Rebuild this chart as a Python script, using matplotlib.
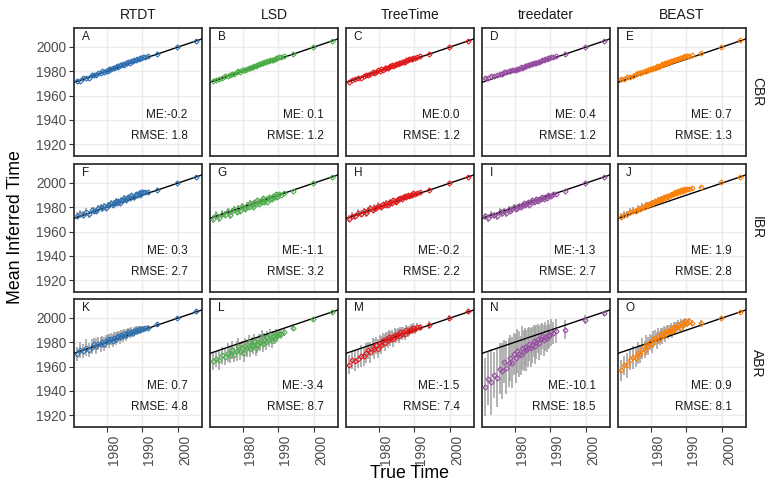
import numpy as np
import matplotlib
matplotlib.use("Agg")
from matplotlib import pyplot as plt

plt.rcParams['font.family'] = ['Liberation Sans', 'DejaVu Sans']

methods = ['RTDT', 'LSD', 'TreeTime', 'treedater', 'BEAST']
schemes = ['CBR', 'IBR', 'ABR']
colors = ['#2F72B3', '#4DAF4A', '#E41A1C', '#984EA3', '#FF7F00']
panel_letters = ['A', 'B', 'C', 'D', 'E', 'F', 'G', 'H', 'I', 'J', 'K', 'L', 'M', 'N', 'O']

# summary stats per scheme, ordered as methods
me_cbr = [-0.2, 0.1, 0.0, 0.4, 0.7]
rmse_cbr = [1.8, 1.2, 1.2, 1.2, 1.3]
me_ibr = [0.3, -1.1, -0.2, -1.3, 1.9]
rmse_ibr = [2.7, 3.2, 2.2, 2.7, 2.8]
me_abr = [0.7, -3.4, -1.5, -10.1, 0.9]
rmse_abr = [4.8, 8.7, 7.4, 18.5, 8.1]

true_time = [1971.8, 1972.6, 1973.5, 1974.3, 1975.0, 1975.8, 1976.5, 1977.1, 1977.7, 1978.3,
             1978.8, 1979.3, 1979.8, 1980.3, 1980.8, 1981.2, 1981.7, 1982.1, 1982.5, 1982.9,
             1983.3, 1983.7, 1984.1, 1984.5, 1984.9, 1985.3, 1985.7, 1986.1, 1986.5, 1986.9,
             1987.3, 1987.7, 1988.1, 1988.5, 1988.9, 1989.3, 1989.7, 1990.2, 1990.8, 1991.5,
             1994.0, 1999.7, 2004.8]

# inferred minus true time, per scheme and method
cbr_rtdt = [0.4, -0.3, 0.6, 0.2, -0.5, 0.8, 0.3, -0.2, 0.9, 0.5, 1.1, 0.2, 0.7, -0.4, 1.0, 0.6, 1.3, 0.4, 0.9, 1.5,
            0.3, 1.1, 0.8, 1.4, 0.5, 1.2, 0.9, 1.6, 0.7, 1.3, 1.0, 1.7, 0.8, 1.4, 1.1, 1.9, 1.2, 1.5, 0.9, 1.3,
            0.6, 0.2, 0.4]
cbr_lsd = [0.2, 0.6, -0.2, 0.5, 0.9, 0.3, 0.7, 1.0, 0.4, 0.8, 1.2, 0.5, 0.9, 1.1, 0.6, 1.0, 1.4, 0.7, 1.1, 0.9,
           1.3, 0.8, 1.2, 1.5, 1.0, 1.3, 0.9, 1.6, 1.2, 1.4, 1.1, 1.7, 1.3, 1.0, 1.5, 1.8, 1.2, 1.4, 1.0, 0.8,
           0.3, 0.5, 0.2]
cbr_treetime = [-0.6, 0.3, -0.2, 0.5, -0.4, 0.2, 0.6, -0.1, 0.4, 0.8, 0.1, 0.5, 0.9, 0.3, 0.7, 0.2, 1.0, 0.6, 0.4, 0.9,
                0.7, 1.1, 0.5, 0.8, 1.2, 0.6, 1.0, 0.8, 1.3, 0.9, 0.7, 1.2, 1.0, 1.4, 0.8, 1.1, 1.3, 0.9, 0.6, 0.8,
                0.4, 0.1, 0.3]
cbr_treedater = [2.6, 2.2, 2.8, 2.0, 1.7, 2.3, 1.5, 1.9, 1.3, 1.8, 1.1, 1.6, 1.4, 0.9, 1.3, 1.0, 1.5, 0.8, 1.2, 1.4,
                 0.9, 1.3, 1.1, 1.6, 0.8, 1.2, 1.4, 1.0, 1.5, 1.1, 1.3, 1.7, 1.0, 1.4, 1.2, 1.6, 1.1, 1.3, 0.9, 1.0,
                 0.5, 0.2, 0.4]
cbr_beast = [1.6, 1.2, 1.9, 1.4, 1.0, 1.7, 2.0, 1.3, 1.8, 2.2, 1.5, 1.9, 2.4, 1.6, 2.1, 1.8, 2.5, 1.7, 2.2, 2.0,
             2.6, 1.9, 2.3, 2.1, 2.7, 2.0, 2.4, 2.2, 2.8, 2.1, 2.5, 2.3, 2.9, 2.2, 2.6, 2.4, 2.8, 2.3, 2.0, 1.8,
             1.2, 0.5, 0.6]

ibr_rtdt = [1.2, 2.0, 0.5, 1.6, -0.8, 1.9, 0.7, -0.4, 1.3, 2.1, 0.2, 1.5, -0.6, 1.8, 0.9, 2.3, 0.4, 1.4, 2.6, 0.8,
            1.7, 0.1, 2.2, 1.1, 2.8, 0.6, 1.9, 2.4, 1.0, 2.9, 1.5, 0.7, 2.5, 1.8, 3.1, 1.2, 2.6, 2.0, 1.4, 1.0,
            0.6, 0.3, 0.5]
ibr_lsd = [-1.5, 0.8, -2.6, 0.4, -1.2, 1.1, -3.0, -0.5, 0.9, -1.8, 0.2, -2.4, 1.3, -0.9, -2.1, 0.6, -1.4, 1.6, -0.3, -2.7,
           0.8, -1.0, 1.5, -1.9, 0.1, -0.7, 1.8, -1.6, 0.4, -2.2, 1.2, -0.6, -1.3, 0.9, -0.2, 1.7, -1.1, 0.5, -0.8, 0.3,
           -0.4, 0.2, 0.3]
ibr_treetime = [-1.3, 0.6, -0.8, 1.2, -0.4, 0.9, -1.6, 0.3, 1.4, -0.7, 0.8, -0.2, 1.6, 0.4, -0.9, 1.1, 0.2, 1.7, -0.5, 0.9,
                1.3, 0.1, 1.8, 0.6, -0.3, 1.4, 0.8, 1.9, 0.3, 1.2, 1.6, 0.5, 2.0, 0.9, 1.4, 0.7, 1.8, 1.1, 0.6, 0.9,
                0.4, 0.1, 0.3]
ibr_treedater = [0.8, -1.5, 0.3, -0.9, -2.2, 0.5, -1.2, -0.4, -2.6, 0.1, -1.7, -0.6, 0.6, -2.0, -1.0, 0.2, -1.8, -0.3, 0.7, -1.4,
                 -0.8, 0.4, -2.1, -0.5, 0.9, -1.1, -0.2, 0.6, -1.6, 0.3, -0.7, 0.8, -1.3, 0.1, -0.9, 0.5, -0.4, -1.2, 0.2, -0.6,
                 -0.3, 0.2, 0.4]
ibr_beast = [0.5, 1.2, 0.8, 1.6, 2.1, 1.0, 2.4, 1.5, 2.8, 1.9, 3.2, 2.3, 2.9, 3.4, 2.5, 3.7, 3.1, 3.9, 3.3, 4.2,
             3.5, 4.4, 3.6, 4.7, 3.9, 4.9, 4.1, 5.1, 4.3, 5.3, 4.4, 5.5, 4.6, 5.6, 4.7, 5.8, 4.9, 5.2, 4.6, 4.0,
             2.5, 0.8, 0.5]

abr_rtdt = [-1.5, 0.8, -0.6, 1.4, -1.1, 0.5, 1.8, -0.3, 1.1, 0.2, 1.6, -0.8, 0.9, 2.0, 0.4, 1.3, -0.5, 1.7, 0.6, 1.1,
            2.2, 0.3, 1.5, 0.8, 1.9, 0.5, 1.2, 2.1, 0.9, 1.6, 0.4, 1.3, 2.0, 1.0, 1.7, 0.7, 1.4, 1.1, 0.8, 0.6,
            1.0, 0.5, 0.8]
abr_lsd = [-7.5, -6.2, -8.4, -5.1, -7.0, -4.3, -6.8, -3.2, -7.9, -5.5, -2.1, -6.4, -4.8, -8.8, -3.6, -6.0, -1.2, -7.3, -4.5, -5.8,
           -2.5, -8.1, -6.6, -3.9, -5.2, -0.8, -7.0, -4.1, -6.3, -2.8, -5.6, -1.5, -6.9, -3.4, -5.0, -2.2, -4.6, -3.0, -3.8, -2.9,
           -2.0, -0.5, -0.3]
abr_treetime = [-10.2, -7.5, -8.8, -8.0, -6.4, -7.2, -5.5, -3.8, -6.0, -2.5, -4.6, -1.8, -5.2, -0.9, -3.1, 0.4, -2.2, 0.8, -1.0, 1.5,
                -0.3, 0.9, -1.6, 1.8, 0.2, 1.1, -0.5, 2.0, 0.7, 1.4, -0.2, 2.3, 1.0, 0.5, 1.8, 1.2, 2.1, 0.6, 1.5, 0.9,
                0.4, 0.2, 0.6]
abr_treedater = [-28.5, -22.5, -26.0, -21.0, -24.5, -17.5, -20.0, -13.0, -18.5, -15.0, -11.5, -16.0, -9.5, -13.5, -8.0,
                 -11.0, -12.5, -7.0, -9.5, -6.5, -10.0, -8.0, -5.5, -9.0, -7.0, -4.5, -8.5, -6.0, -3.5, -7.5,
                 -5.0, -2.5, -6.5, -4.0, -5.5, -3.0, -4.5, -2.0, -3.5, -2.5, -3.5, -1.0, -0.8]
abr_beast = [-15.0, -11.5, -12.5, -9.0, -7.5, -8.5, -5.0, -6.5, -3.0, -4.5, -1.0, -2.5, 0.5, -1.5, 1.5, 2.5, 0.0, 3.0, 1.0, 3.5,
             2.0, 4.5, 2.5, 5.0, 3.5, 4.0, 5.5, 3.0, 6.0, 4.5, 5.0, 6.5, 4.0, 7.0, 5.5, 6.0, 7.5, 5.5, 6.5, 4.5,
             1.5, 0.5, 0.3]

# half-width of the credible interval around each point
cbr_err = [1.2, 1.0, 1.1, 0.9, 1.0, 0.9, 0.8, 0.9, 0.8, 0.8, 0.7, 0.8, 0.7, 0.7, 0.6, 0.7, 0.6, 0.6, 0.6, 0.5,
           0.6, 0.5, 0.5, 0.5, 0.5, 0.4, 0.5, 0.4, 0.4, 0.4, 0.4, 0.4, 0.3, 0.4, 0.3, 0.3, 0.3, 0.3, 0.3, 0.3,
           0.2, 0.2, 0.2]
ibr_err = [3.0, 3.2, 2.8, 3.1, 2.9, 2.7, 3.0, 2.6, 2.8, 2.5, 2.7, 2.4, 2.6, 2.3, 2.5, 2.2, 2.4, 2.1, 2.3, 2.0,
           2.2, 1.9, 2.1, 1.8, 2.0, 1.7, 1.9, 1.6, 1.8, 1.5, 1.7, 1.5, 1.6, 1.4, 1.5, 1.3, 1.4, 1.2, 1.1, 1.0,
           0.8, 0.5, 0.4]
abr_err_rtdt = [6.0, 6.5, 5.5, 6.8, 5.8, 6.2, 5.0, 6.6, 5.4, 6.1, 4.8, 5.9, 5.2, 4.5, 5.7, 4.9, 5.3, 4.4, 5.0, 4.6,
                4.1, 5.2, 4.3, 4.8, 3.9, 4.5, 4.0, 3.6, 4.2, 3.8, 3.4, 3.9, 3.1, 3.5, 2.9, 3.2, 2.6, 2.4, 2.0, 1.8,
                1.4, 1.0, 1.0]
abr_err_lsd = [7.5, 6.8, 8.0, 7.2, 6.5, 7.8, 6.9, 7.4, 6.2, 7.9, 6.6, 7.1, 6.0, 7.6, 6.4, 7.0, 5.8, 7.3, 6.1, 6.8,
               5.6, 7.2, 6.3, 5.9, 6.7, 5.4, 6.5, 5.7, 6.2, 5.2, 5.9, 4.8, 5.5, 4.5, 5.1, 4.2, 4.7, 3.9, 4.0, 3.5,
               3.0, 1.5, 1.2]
abr_err_treetime = [8.0, 7.2, 8.5, 7.6, 9.0, 7.9, 8.3, 7.0, 8.8, 7.4, 8.1, 6.8, 7.7, 6.5, 7.3, 6.2, 7.0, 5.9, 6.6, 5.7,
                    6.3, 5.4, 6.0, 5.2, 5.8, 5.0, 5.5, 4.8, 5.2, 4.6, 4.9, 4.4, 4.6, 4.1, 4.3, 3.9, 4.0, 3.6, 3.4, 3.0,
                    3.2, 2.5, 2.0]
abr_err_treedater = [24, 22, 27, 19, 24, 21, 23, 18, 22, 20, 19, 21, 17, 20, 18, 19, 16, 18, 17, 15,
                     17, 16, 14, 16, 15, 13, 15, 14, 12, 14, 13, 11, 13, 12, 11, 12, 10, 11, 9, 10,
                     8, 4, 2]
abr_err_beast = [9, 8, 10, 8.5, 9.5, 8, 9, 7.5, 8.5, 7, 8, 7.5, 6.5, 7.5, 7, 6, 7, 6.5, 6, 5.5,
                 6.5, 5.5, 6, 5, 5.5, 5, 4.5, 5.5, 4.5, 5, 4, 4.5, 4, 3.5, 4, 3.5, 3, 3.5, 3, 2.5,
                 3, 1.5, 1]

resid_rows = [
    [cbr_rtdt, cbr_lsd, cbr_treetime, cbr_treedater, cbr_beast],
    [ibr_rtdt, ibr_lsd, ibr_treetime, ibr_treedater, ibr_beast],
    [abr_rtdt, abr_lsd, abr_treetime, abr_treedater, abr_beast],
]
err_rows = [
    [cbr_err] * 5,
    [ibr_err] * 5,
    [abr_err_rtdt, abr_err_lsd, abr_err_treetime, abr_err_treedater, abr_err_beast],
]
me_rows = [me_cbr, me_ibr, me_abr]
rmse_rows = [rmse_cbr, rmse_ibr, rmse_abr]

W, H = 765, 486
col_left = [74, 210, 346, 482, 618]
row_top = [28, 164, 299]
pw, ph = 128, 128
xlim = (1970.9, 2006.6)
ylim = (1910.3, 2015.6)

fig = plt.figure(figsize=(W / 100, H / 100), dpi=100)


def me_label(v):
    if v > 0:
        return f"ME: {v:.1f}"
    return f"ME:{v:.1f}"


x = np.array(true_time)
for r in range(3):
    for c in range(5):
        ax = fig.add_axes([col_left[c] / W, 1 - (row_top[r] + ph) / H, pw / W, ph / H])
        ax.set_facecolor('white')
        ax.set_xlim(*xlim)
        ax.set_ylim(*ylim)
        ax.set_xticks([1980, 1990, 2000])
        ax.set_yticks([1920, 1940, 1960, 1980, 2000])
        ax.grid(True, color='#EBEBEB', linewidth=1.0)
        ax.set_axisbelow(True)
        for s in ax.spines.values():
            s.set_color('#333333')
            s.set_linewidth(1.3)

        y = x + np.array(resid_rows[r][c])
        e = np.array(err_rows[r][c])
        ax.vlines(x, y - e, y + e, color='#9E9E9E', linewidth=1.1, zorder=2)
        ax.plot(xlim, xlim, color='black', linewidth=1.0, zorder=3)
        ax.plot(x, y, linestyle='none', marker='D', markersize=2.6, markerfacecolor='none',
                markeredgecolor=colors[c], markeredgewidth=0.8, zorder=4)

        ax.text(1973.0, 2008.5, panel_letters[r * 5 + c], fontsize=8.5, color='#1A1A1A',
                ha='left', va='center')
        ax.text(2002.6, 1944, me_label(me_rows[r][c]), fontsize=8.5, color='#1A1A1A',
                ha='right', va='center')
        ax.text(2002.6, 1927, f"RMSE: {rmse_rows[r][c]:.1f}", fontsize=8.5, color='#1A1A1A',
                ha='right', va='center')

        ax.tick_params(colors='#333333', length=3.5, width=0.8, labelcolor='#4D4D4D', labelsize=9.8)
        if c == 0:
            ax.tick_params(axis='y', left=True, labelleft=True, pad=2)
        else:
            ax.tick_params(axis='y', left=False, labelleft=False)
        if r == 2:
            ax.tick_params(axis='x', bottom=True, labelbottom=True, pad=2)
            for lab in ax.get_xticklabels():
                lab.set_rotation(90)
                lab.set_ha('left')
                lab.set_va('top')
        else:
            ax.tick_params(axis='x', bottom=False, labelbottom=False)

# facet strips
for c, m in enumerate(methods):
    fig.text((col_left[c] + pw / 2) / W, 1 - 15 / H, m, fontsize=10, color='#1A1A1A',
             ha='center', va='center')
for r, s in enumerate(schemes):
    fig.text(757 / W, 1 - (row_top[r] + ph / 2) / H, s, fontsize=10, color='#1A1A1A',
             ha='center', va='center', rotation=-90)

fig.text(410 / W, 1 - 473 / H, 'True Time', fontsize=12.8, ha='center', va='center')
fig.text(16 / W, 1 - 227 / H, 'Mean Inferred Time', fontsize=12.8, ha='center', va='center',
         rotation=90)

fig.savefig('out.png', dpi=100)
